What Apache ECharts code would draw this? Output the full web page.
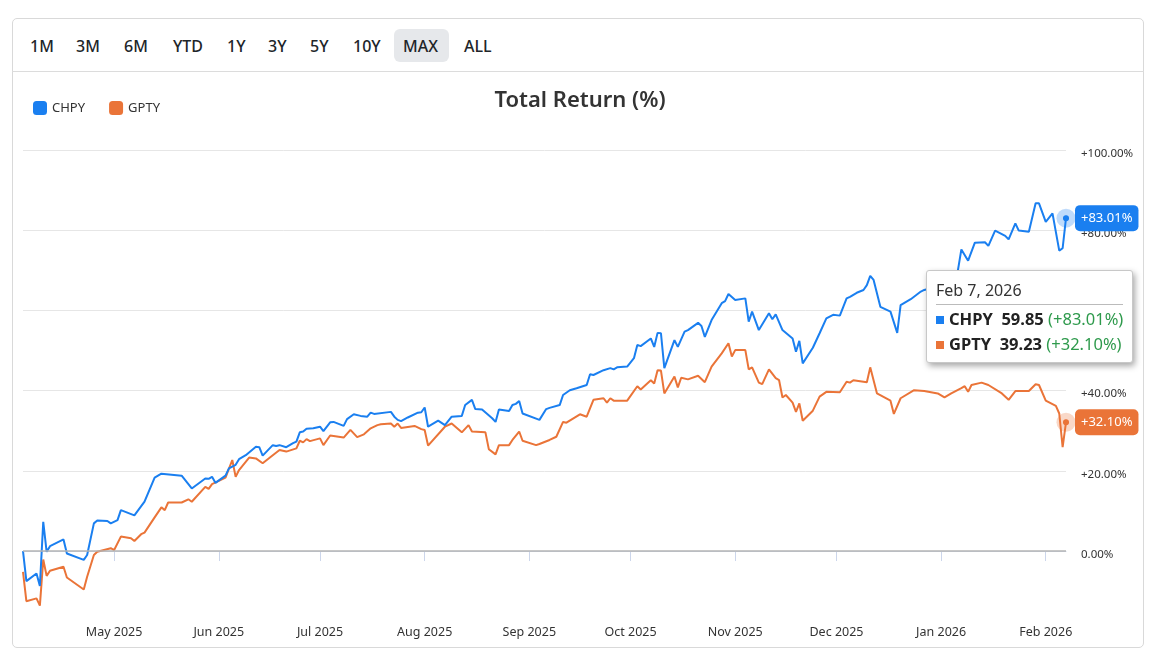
<!DOCTYPE html>
<html>
<head>
<meta charset="utf-8">
<script src="https://cdn.jsdelivr.net/npm/echarts@6/dist/echarts.min.js"></script>
<style>
  html, body { margin: 0; padding: 0; background: #fff; width: 1160px; height: 672px; overflow: hidden; font-family: 'Noto Sans', 'Open Sans', sans-serif; }
  #card { position: absolute; left: 12px; top: 18px; width: 1132px; height: 630px; box-sizing: border-box; border: 1px solid #d9d9d9; border-radius: 5px; }
  #bar { position: absolute; left: 12px; top: 71px; width: 1132px; height: 1px; background: #dcdcdc; }
  .btn { position: absolute; top: 33px; font-size: 16px; font-weight: 500; color: #212529; line-height: 26px; }
  #maxbg { position: absolute; left: 394px; top: 29px; width: 55px; height: 33px; background: #e6e8eb; border-radius: 6px; }
  #chart { position: absolute; left: 0; top: 0; width: 1160px; height: 672px; }
</style>
</head>
<body>
<div id="card"></div>
<div id="bar"></div>
<div id="maxbg"></div>
<div id="buttons"></div>
<div id="chart"></div>
<script>
// ---------- data ----------
const rangeButtons = ['1M', '3M', '6M', 'YTD', '1Y', '3Y', '5Y', '10Y', 'MAX', 'ALL'];
const seriesNames = ['CHPY', 'GPTY'];
const seriesColors = ['#1a7ff0', '#ea7438'];
const tooltipDate = 'Feb 7, 2026';
const lastPrices = [59.85, 39.23];
const monthTicks = ['2025-05-01', '2025-06-01', '2025-07-01', '2025-08-01', '2025-09-01', '2025-10-01',
  '2025-11-01', '2025-12-01', '2026-01-01', '2026-02-01'];
const monthNames = ['Jan', 'Feb', 'Mar', 'Apr', 'May', 'Jun', 'Jul', 'Aug', 'Sep', 'Oct', 'Nov', 'Dec'];
const yTicks = [0, 20, 40, 60, 80, 100];

const chpyDates = ['2025-04-04','2025-04-05','2025-04-08','2025-04-09','2025-04-10','2025-04-11','2025-04-12','2025-04-16','2025-04-17','2025-04-22',
'2025-04-23','2025-04-25','2025-04-26','2025-04-29','2025-04-30','2025-05-02','2025-05-03','2025-05-07','2025-05-10','2025-05-13',
'2025-05-15','2025-05-21','2025-05-24','2025-05-28','2025-05-29','2025-05-30','2025-05-31','2025-06-03','2025-06-04','2025-06-06',
'2025-06-07','2025-06-09','2025-06-12','2025-06-13','2025-06-14','2025-06-17','2025-06-18','2025-06-19','2025-06-21','2025-06-23',
'2025-06-24','2025-06-25','2025-06-26','2025-06-27','2025-06-29','2025-07-01','2025-07-02','2025-07-04','2025-07-05','2025-07-08',
'2025-07-09','2025-07-11','2025-07-13','2025-07-15','2025-07-16','2025-07-17','2025-07-22','2025-07-23','2025-07-24','2025-07-25',
'2025-07-27','2025-07-30','2025-07-31','2025-08-01','2025-08-02','2025-08-05','2025-08-07','2025-08-09','2025-08-12','2025-08-13',
'2025-08-15','2025-08-16','2025-08-18','2025-08-21','2025-08-22','2025-08-23','2025-08-26','2025-08-27','2025-08-28','2025-08-29',
'2025-08-30','2025-09-04','2025-09-06','2025-09-07','2025-09-10','2025-09-11','2025-09-13','2025-09-15','2025-09-18','2025-09-19',
'2025-09-20','2025-09-23','2025-09-25','2025-09-26','2025-09-27','2025-09-30','2025-10-02','2025-10-03','2025-10-04','2025-10-07',
'2025-10-08','2025-10-09','2025-10-10','2025-10-11','2025-10-14','2025-10-15','2025-10-17','2025-10-18','2025-10-21','2025-10-22',
'2025-10-23','2025-10-25','2025-10-28','2025-10-29','2025-10-30','2025-11-01','2025-11-04','2025-11-05','2025-11-06','2025-11-08',
'2025-11-11','2025-11-12','2025-11-13','2025-11-15','2025-11-18','2025-11-19','2025-11-20','2025-11-21','2025-11-24','2025-11-26',
'2025-11-28','2025-11-30','2025-12-02','2025-12-04','2025-12-05','2025-12-07','2025-12-09','2025-12-10','2025-12-11','2025-12-12',
'2025-12-14','2025-12-17','2025-12-19','2025-12-20','2025-12-23','2025-12-26','2025-12-27','2025-12-31','2026-01-03','2026-01-06',
'2026-01-07','2026-01-09','2026-01-11','2026-01-14','2026-01-15','2026-01-17','2026-01-20','2026-01-21','2026-01-23','2026-01-24',
'2026-01-27','2026-01-29','2026-01-30','2026-02-01','2026-02-03','2026-02-05','2026-02-06','2026-02-07'];
const chpyValues = [0, -7.5, -5.6, -8.7, 7.3, -0.2, 1.2, 2.9, -0.6, -2.2,
-1.0, 6.9, 7.6, 7.5, 6.9, 7.7, 10.2, 8.9, 12.3, 18.3,
19.3, 18.8, 15.6, 18.1, 18.0, 18.5, 17.0, 18.8, 20.6, 21.5,
22.9, 23.9, 26.0, 25.9, 23.8, 26.4, 26.2, 26.4, 25.9, 26.9,
27.3, 29.6, 29.8, 30.5, 30.6, 31.0, 29.9, 32.1, 32.2, 31.2,
32.9, 34.1, 33.7, 33.5, 34.5, 34.2, 34.7, 33.5, 32.7, 32.4,
33.3, 34.5, 34.6, 35.8, 31.0, 32.5, 31.4, 33.5, 33.7, 36.4,
37.7, 35.4, 35.3, 33.1, 32.2, 35.3, 34.9, 36.4, 36.7, 37.4,
34.3, 32.7, 35.4, 35.7, 36.4, 38.9, 40.1, 40.6, 41.4, 44.1,
43.9, 45.1, 45.6, 45.3, 45.8, 46.0, 48.1, 51.4, 51.1, 53.0,
50.9, 54.4, 54.3, 45.6, 52.6, 50.9, 54.7, 55.1, 56.9, 56.1,
53.4, 57.6, 61.8, 62.3, 64.1, 62.6, 63.0, 57.2, 59.7, 55.1,
59.3, 57.8, 59.0, 55.1, 53.0, 49.7, 52.4, 46.8, 50.7, 54.3,
58.0, 58.9, 58.7, 63.0, 63.4, 64.4, 65.1, 66.3, 68.6, 67.6,
60.9, 59.7, 54.4, 61.3, 62.8, 64.7, 65.1, 66.0, 65.5, 70.1,
75.2, 72.4, 76.9, 77.0, 76.1, 79.9, 78.6, 77.7, 81.7, 79.9,
79.6, 86.7, 86.7, 82.1, 84.2, 74.9, 75.5, 83.01];

const gptyDates = ['2025-04-04','2025-04-05','2025-04-08','2025-04-09','2025-04-10','2025-04-11','2025-04-12','2025-04-16','2025-04-17','2025-04-22',
'2025-04-23','2025-04-25','2025-04-26','2025-04-30','2025-05-01','2025-05-03','2025-05-06','2025-05-07','2025-05-09','2025-05-10',
'2025-05-13','2025-05-15','2025-05-16','2025-05-17','2025-05-21','2025-05-23','2025-05-24','2025-05-28','2025-05-29','2025-05-30',
'2025-06-03','2025-06-05','2025-06-06','2025-06-07','2025-06-10','2025-06-12','2025-06-14','2025-06-17','2025-06-19','2025-06-21',
'2025-06-24','2025-06-25','2025-06-26','2025-06-27','2025-06-28','2025-07-01','2025-07-02','2025-07-04','2025-07-08','2025-07-10',
'2025-07-12','2025-07-14','2025-07-16','2025-07-18','2025-07-19','2025-07-22','2025-07-23','2025-07-24','2025-07-25','2025-07-29',
'2025-07-31','2025-08-01','2025-08-02','2025-08-07','2025-08-09','2025-08-12','2025-08-14','2025-08-15','2025-08-19','2025-08-20',
'2025-08-22','2025-08-23','2025-08-26','2025-08-27','2025-08-29','2025-08-30','2025-09-03','2025-09-04','2025-09-07','2025-09-09',
'2025-09-11','2025-09-12','2025-09-16','2025-09-18','2025-09-20','2025-09-23','2025-09-24','2025-09-25','2025-09-26','2025-09-30',
'2025-10-03','2025-10-04','2025-10-07','2025-10-08','2025-10-09','2025-10-10','2025-10-11','2025-10-14','2025-10-15','2025-10-16',
'2025-10-18','2025-10-21','2025-10-23','2025-10-25','2025-10-28','2025-10-30','2025-10-31','2025-11-01','2025-11-04','2025-11-05',
'2025-11-06','2025-11-08','2025-11-09','2025-11-11','2025-11-13','2025-11-14','2025-11-15','2025-11-16','2025-11-18','2025-11-19',
'2025-11-20','2025-11-21','2025-11-24','2025-11-26','2025-11-28','2025-12-02','2025-12-04','2025-12-05','2025-12-06','2025-12-10',
'2025-12-11','2025-12-13','2025-12-17','2025-12-18','2025-12-20','2025-12-24','2025-12-27','2025-12-31','2026-01-02','2026-01-04',
'2026-01-07','2026-01-08','2026-01-09','2026-01-10','2026-01-13','2026-01-15','2026-01-19','2026-01-21','2026-01-23','2026-01-27',
'2026-01-29','2026-01-30','2026-02-01','2026-02-04','2026-02-05','2026-02-06','2026-02-07'];
const gptyValues = [-5.2, -12.5, -11.8, -13.6, -2.1, -6.2, -4.9, -3.9, -6.6, -9.6,
-6.4, -1.0, -0.2, 0.7, 0.25, 3.6, 3.2, 2.5, 4.2, 4.6,
8.4, 10.9, 10.2, 12.1, 12.1, 12.9, 12.3, 16.0, 15.5, 16.7,
18.3, 22.7, 18.5, 20.2, 23.3, 23.1, 21.9, 23.9, 25.2, 24.8,
25.6, 27.5, 27.1, 27.9, 27.4, 28.1, 26.4, 28.8, 28.3, 30.2,
28.4, 29.1, 30.6, 31.4, 31.6, 31.8, 31.0, 31.8, 30.7, 31.2,
30.4, 30.2, 26.3, 31.0, 31.8, 29.6, 31.4, 29.8, 29.6, 25.4,
24.1, 26.4, 26.4, 27.7, 29.8, 27.5, 26.4, 26.7, 27.7, 28.5,
32.2, 32.0, 34.1, 33.5, 37.7, 38.1, 37.0, 38.1, 37.5, 37.5,
41.1, 40.3, 42.6, 41.8, 45.1, 45.0, 39.3, 43.5, 40.8, 43.2,
42.8, 43.7, 42.1, 46.0, 49.3, 51.8, 48.5, 50.1, 50.1, 45.3,
45.8, 42.0, 41.6, 45.3, 43.1, 42.6, 38.3, 38.9, 37.0, 34.7,
36.8, 32.5, 35.0, 38.5, 39.7, 39.6, 42.2, 42.0, 42.6, 42.1,
45.8, 39.3, 37.5, 34.2, 38.1, 40.1, 39.9, 39.3, 38.3, 39.3,
40.6, 41.1, 39.7, 41.4, 42.0, 41.4, 39.3, 37.7, 39.9, 39.9,
41.6, 41.4, 37.5, 36.2, 34.3, 25.9, 32.10];

// ---------- page chrome ----------
const btnLefts = [30, 76, 124, 173, 227, 268, 310, 353, 403, 464];
const btnWrap = document.getElementById('buttons');
rangeButtons.forEach((b, i) => {
  const s = document.createElement('span');
  s.className = 'btn';
  s.style.left = btnLefts[i] + 'px';
  s.textContent = b;
  btnWrap.appendChild(s);
});

// ---------- chart ----------
const toTs = s => { const p = s.split('-'); return new Date(+p[0], +p[1] - 1, +p[2]).getTime(); };
const pct = v => (v > 0 ? '+' : '') + v.toFixed(2) + '%';
const allDates = [chpyDates, gptyDates];
const allValues = [chpyValues, gptyValues];
const monthTickTs = monthTicks.map(toTs);

const chart = echarts.init(document.getElementById('chart'), null, { renderer: 'canvas' });

const series = seriesNames.map((name, i) => {
  const d = allDates[i].map((s, k) => [toTs(s), allValues[i][k]]);
  const last = d[d.length - 1];
  const s = {
    name: name,
    type: 'line',
    data: d,
    showSymbol: false,
    symbol: 'circle',
    symbolSize: 5,
    lineStyle: { width: 2, color: seriesColors[i] },
    itemStyle: { color: seriesColors[i] },
    emphasis: { disabled: true },
    z: 3 + (1 - i),
    endLabel: {
      show: true,
      formatter: p => pct(p.value[1]),
      color: '#fff',
      backgroundColor: seriesColors[i],
      borderRadius: 5,
      padding: [7, 6, 6, 6],
      fontSize: 13,
      fontFamily: 'Noto Sans',
      distance: 9
    },
    markPoint: {
      silent: true,
      animation: false,
      label: { show: false },
      symbol: 'circle',
      data: [
        { coord: last, symbolSize: 19, itemStyle: { color: seriesColors[i], opacity: 0.28 } },
        { coord: last, symbolSize: 5, itemStyle: { color: seriesColors[i], opacity: 1 } }
      ]
    }
  };
  if (i === 0) {
    s.markLine = {
      silent: true,
      symbol: 'none',
      animation: false,
      label: { show: false },
      lineStyle: { color: '#b4b4b4', width: 1.5, type: 'solid' },
      data: [{ yAxis: 0 }]
    };
  }
  return s;
});

const tipRow = (i) =>
  '<div style="white-space:nowrap;line-height:25px;font-size:16.5px;">' +
  '<span style="display:inline-block;width:8px;height:8px;background:' + seriesColors[i] + ';margin-right:5px;vertical-align:1px"></span>' +
  '<b style="color:#222">' + seriesNames[i] + '</b>&nbsp; <b style="color:#222">' + lastPrices[i].toFixed(2) + '</b> ' +
  '<span style="color:#2e9a4c">(' + pct(allValues[i][allValues[i].length - 1]) + ')</span></div>';

chart.setOption({
  animation: false,
  textStyle: { fontFamily: 'Noto Sans' },
  title: {
    text: 'Total Return (%)',
    left: 'center',
    top: 85,
    textStyle: { fontSize: 22, fontWeight: 600, color: '#333', fontFamily: 'Noto Sans' }
  },
  legend: {
    data: seriesNames,
    left: 28,
    top: 96,
    icon: 'roundRect',
    itemWidth: 14,
    itemHeight: 14,
    itemGap: 24,
    textStyle: { fontSize: 13, color: '#333' }
  },
  grid: { left: 23, right: 94, top: 150, bottom: 58, containLabel: false },
  xAxis: {
    type: 'value',
    min: toTs('2025-04-04'),
    max: toTs('2026-02-07'),
    axisLine: { lineStyle: { color: '#ccd6eb', width: 1 } },
    axisTick: { show: true, length: 10, lineStyle: { color: '#ccd6eb' }, customValues: monthTickTs },
    axisLabel: {
      customValues: monthTickTs,
      margin: 12,
      fontSize: 12.5,
      color: '#333',
      formatter: v => { const d = new Date(v); return monthNames[d.getMonth()] + ' ' + d.getFullYear(); }
    },
    splitLine: { show: false }
  },
  yAxis: {
    type: 'value',
    position: 'right',
    min: -15.7,
    max: 100,
    axisLine: { show: false },
    axisTick: { show: false, customValues: yTicks },
    axisLabel: {
      customValues: yTicks,
      margin: 15,
      fontSize: 11.5,
      color: '#333',
      verticalAlign: 'top',
      lineHeight: 7,
      formatter: v => pct(v)
    },
    splitLine: { show: true, lineStyle: { color: '#e6e6e6', width: 1 } }
  },
  tooltip: {
    trigger: 'axis',
    triggerOn: 'none',
    alwaysShowContent: true,
    axisPointer: { type: 'none' },
    position: [926, 270],
    backgroundColor: '#ffffff',
    borderColor: '#c8c8c8',
    borderWidth: 1,
    padding: [7, 9, 6, 9],
    extraCssText: 'box-shadow: 2px 3px 6px rgba(0,0,0,0.35); border-radius: 3px;',
    formatter: () =>
      '<div style="font-size:16px;color:#333;line-height:24px;padding-bottom:2px;border-bottom:1px solid #bbb;margin-bottom:1px">' + tooltipDate + '</div>' +
      tipRow(0) + tipRow(1)
  },
  series: series
});

chart.dispatchAction({ type: 'showTip', seriesIndex: 0, dataIndex: chpyValues.length - 1 });
</script>
</body>
</html>
